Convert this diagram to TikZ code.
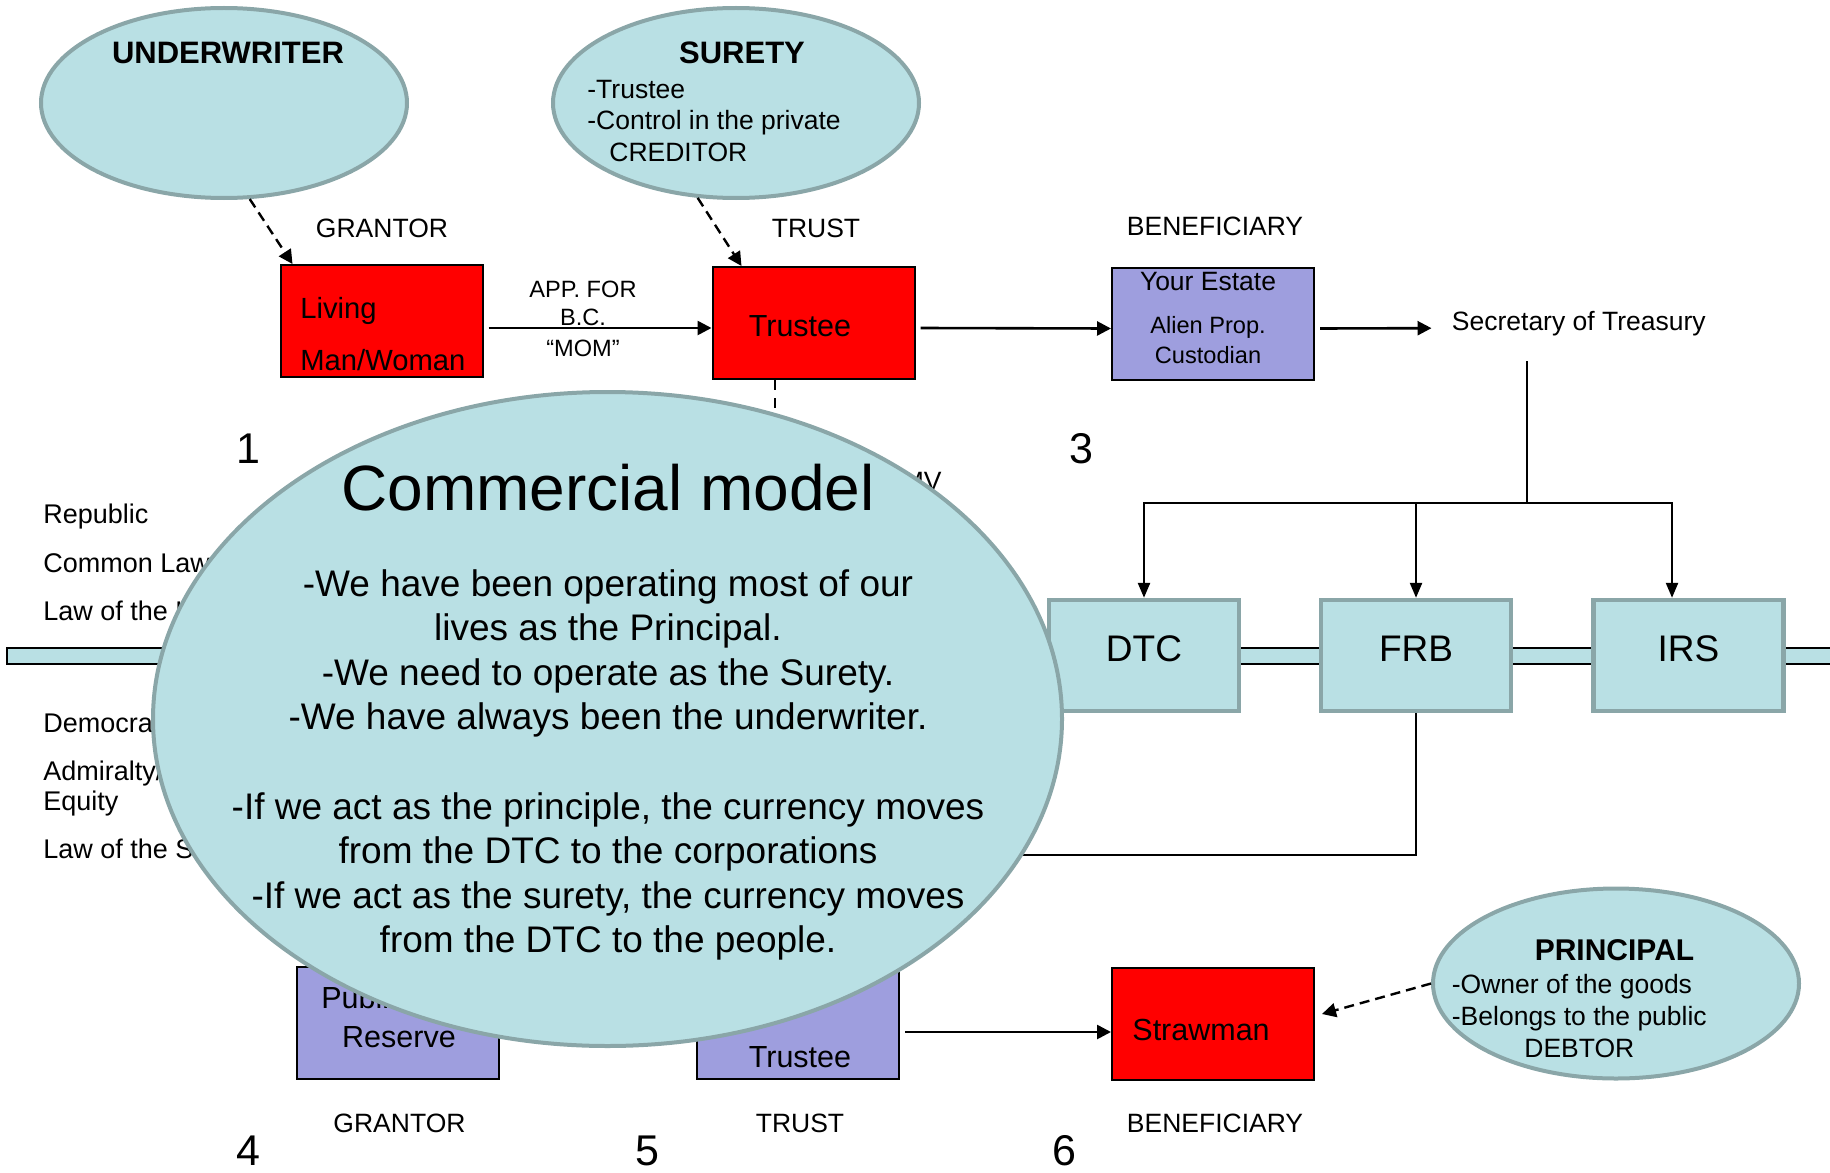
\documentclass[tikz,border=0pt]{standalone}
\usepackage{fontspec}
\setmainfont{Liberation Sans}
\usetikzlibrary{shapes.geometric,arrows.meta,calc}
\definecolor{bubblefill}{RGB}{185,224,228}
\definecolor{bubbleedge}{RGB}{138,166,168}
\definecolor{lavender}{RGB}{158,158,222}
\definecolor{boxred}{RGB}{255,0,0}

\begin{document}
\begin{tikzpicture}[x=0.5pt,y=0.5pt,yscale=-1,
  bubble/.style={ellipse,draw=bubbleedge,fill=bubblefill,line width=2pt,inner sep=0pt,minimum width=183pt,minimum height=95pt},
  redbox/.style={draw=black,fill=boxred,line width=1pt,minimum width=101pt,minimum height=56pt},
  lavbox/.style={draw=black,fill=lavender,line width=1pt,minimum width=101pt,minimum height=56pt},
  bank/.style={draw=bubbleedge,fill=bubblefill,line width=2.2pt,minimum width=95pt,minimum height=55.5pt,text depth=7pt,font=\fontsize{18.5}{22}\selectfont},
  txt/.style={inner sep=0pt,anchor=base,font=\fontsize{13.25}{16}\selectfont},
  ltxt/.style={txt,anchor=base west},
  head/.style={txt,font=\bfseries\fontsize{15.5}{18}\selectfont},
  boxtxt/.style={txt,font=\fontsize{15.25}{18}\selectfont},
  small/.style={txt,font=\fontsize{11.8}{14}\selectfont},
  side/.style={ltxt,font=\fontsize{13.5}{16}\selectfont},
  num/.style={txt,font=\fontsize{21.5}{26}\selectfont},
  flow/.style={line width=1.3pt,-{Triangle[length=7pt,width=7pt]}},
  tie/.style={line width=1.2pt},
  tiearrow/.style={tie,-{Triangle[length=7.5pt,width=6pt]}},
  hint/.style={line width=1.2pt,dash pattern=on 5pt off 3pt,-{Triangle[length=7pt,width=7pt]}}]

\useasboundingbox (0,0) rectangle (1830,1172);

\node[bubble] (uw) at (224,103) {};
\node[head] (uwt) at (228,64) {UNDERWRITER};
\node[bubble] (sur) at (736,103) {};
\node[head] (surt) at (742,64) {SURETY};
\node[ltxt] (sur1) at (587,98) {-Trustee};
\node[ltxt] (sur2) at (587,130) {-Control in the private};
\node[ltxt] (sur3) at (609,162) {CREDITOR};

\node[txt] (gr1) at (382,237) {GRANTOR};
\node[txt] (tr1) at (816,237) {TRUST};
\node[txt] (be1) at (1215,235) {BENEFICIARY};

\node[redbox] (living) at (381.5,321) {};
\node[redbox] (trustee) at (813.5,323) {};
\node[lavbox] (estate) at (1213,323.5) {};
\node[boxtxt,anchor=base west,font=\fontsize{14.6}{18}\selectfont] (liv1) at (300,318) {Living};
\node[boxtxt,anchor=base west,font=\fontsize{14.6}{18}\selectfont] (liv2) at (300,370) {Man/Woman};
\node[boxtxt] (trt) at (800,336) {Trustee};
\node[txt] (est1) at (1208,290) {Your Estate};
\node[small] (est2) at (1208,333) {Alien Prop.};
\node[small] (est3) at (1208,363) {Custodian};
\node[small] (app1) at (583,297) {APP. FOR};
\node[small] (app2) at (583,325) {B.C.};
\node[small] (app3) at (583,356) {“MOM”};
\node[ltxt] (treas) at (1451.5,330) {Secretary of Treasury};
\node[num] (n1) at (248,463) {1};
\node[num] (n3) at (1081,463) {3};

\draw[hint] (uw.-75) -- ($(living.north west)+(13,0)$);
\draw[hint] (sur.-112) -- ($(trustee.north west)+(30,0)$);
\draw[flow] ($(living.east)+(5,7)$) -- ($(trustee.west)+(0,5)$);
\draw[flow] ($(trustee.east)+(5,5)$) -- ($(estate.west)+(0,5)$);
\draw[flow] ($(estate.east)+(5,5)$) -- ($(treas.west)+(-20,5)$);

\node[side] (rep) at (43,523) {Republic};
\node[side] (com) at (43,572) {Common Law};
\node[side] (lol) at (43,620) {Law of the Land};
\node[side] (dem) at (43,732) {Democracy};
\node[side] (adm) at (43,780) {Admiralty/};
\node[side] (equ) at (43,810) {Equity};
\node[side] (los) at (43,858) {Law of the Sea};
\node[txt,anchor=base east] (mv) at (942,490) {MV};

\coordinate (tdash) at (775,470);
\draw[line width=1.2pt,dash pattern=on 5pt off 4pt] (trustee.south -| tdash) -- (tdash);

\draw[fill=bubblefill,line width=1pt] (7,648) rectangle (1840,664);
\node[bank] (dtc) at (1144,655.5) {DTC};
\node[bank] (frb) at (1416,655.5) {FRB};
\node[bank] (irs) at (1688.5,655.5) {IRS};

\coordinate (rise) at (1527,361);
\coordinate (split) at (1527,503);
\coordinate (irsdrop) at (1672,503);
\draw[tie] (rise) -- (split);
\draw[tiearrow] (split) -| (dtc.north);
\draw[tiearrow] (split) -| (frb.north);
\draw[tiearrow] (split) -- (irsdrop) -- (irsdrop |- irs.north);
\coordinate (frbend) at (880,855);
\draw[tie] (frb.south) |- (frbend);

\node[lavbox] (pubres) at (397.5,1023) {};
\node[lavbox] (trustee2) at (798,1023) {};
\node[redbox] (straw) at (1213,1024) {};
\node[boxtxt,anchor=base west] (pub1) at (321,1008) {Public};
\node[boxtxt] (pub2) at (399,1047) {Reserve};
\node[boxtxt] (tr2) at (800,1067) {Trustee};
\node[boxtxt,anchor=base west] (strawt) at (1132,1040) {Strawman};
\draw[flow] ($(trustee2.east)+(5,9)$) -- ($(straw.west)+(0,8)$);

\node[bubble] (pr) at (1616,983.5) {};
\node[head,font=\bfseries\fontsize{15}{18}\selectfont] (prt) at (1614.5,960) {PRINCIPAL};
\node[ltxt] (pr1) at (1451.5,993) {-Owner of the goods};
\node[ltxt] (pr2) at (1451.5,1025) {-Belongs to the public};
\node[ltxt] (pr3) at (1524,1057) {DEBTOR};
\draw[hint] (pr.west) -- ($(straw.east)+(7,-10)$);

\node[txt] (gr2) at (399.5,1132) {GRANTOR};
\node[txt] (tr3) at (800,1132) {TRUST};
\node[txt] (be2) at (1215,1132) {BENEFICIARY};
\node[num] (n4) at (248,1165) {4};
\node[num] (n5) at (647,1165) {5};
\node[num] (n6) at (1064,1165) {6};

\node[bubble,minimum width=454.5pt,minimum height=327pt] (cm) at (607.5,719) {};
\node[txt,font=\fontsize{32}{36}\selectfont] (cmt) at (608,510) {Commercial model};
\node[inner sep=0pt,align=center,font=\fontsize{18.5}{22.3}\selectfont] (cmb) at (608,765)
  {-We have been operating most of our\\lives as the Principal.\\-We need to operate as the Surety.\\-We have always been the underwriter.\\[22.3pt]-If we act as the principle, the currency moves\\from the DTC to the corporations\\-If we act as the surety, the currency moves\\from the DTC to the people.};
\end{tikzpicture}
\end{document}
